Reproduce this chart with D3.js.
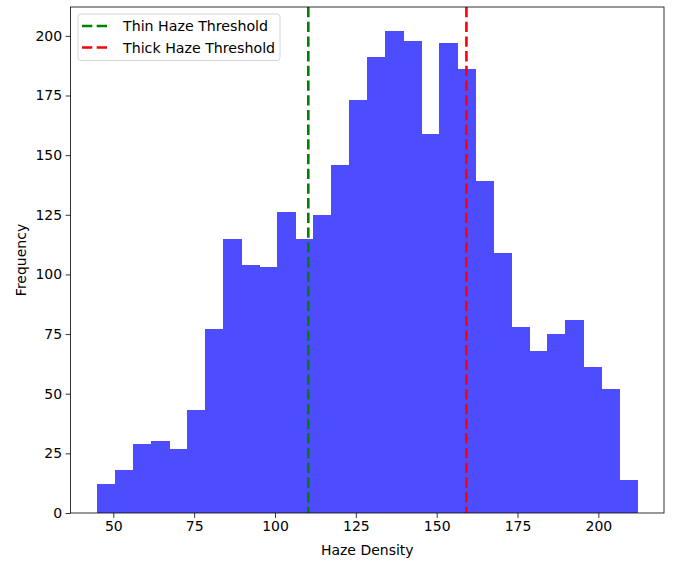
<!DOCTYPE html>
<html><head><meta charset="utf-8">
<script src="https://cdn.jsdelivr.net/npm/d3@7"></script>
<style>body{margin:0;background:#fff}svg{display:block}text{font-family:"DejaVu Sans",sans-serif}</style>
</head><body><svg id="c" width="677" height="563"></svg>
<script>
const binStart = 45.1, binEnd = 211.96;
const counts = [12,18,29,30,27,43,77,115,104,103,126,115,125,146,173,191,202,198,159,197,186,139,109,78,68,75,81,61,52,14];
const xTicks = [50,75,100,125,150,175,200];
const yTicks = [0,25,50,75,100,125,150,175,200];
const thresholds = [{name:"Thin Haze Threshold", value:110.3, color:"green"},{name:"Thick Haze Threshold", value:159.2, color:"red"}];

const svg = d3.select("#c");
const L=70.5, R=664, T=7, B=513;
const FS = "14px";
const span = binEnd-binStart;
const x = d3.scaleLinear().domain([binStart-span*0.05, binEnd+span*0.05]).range([L,R]);
const y = d3.scaleLinear().domain([0, d3.max(counts)*1.05]).range([B,T]);
const w = span/counts.length;

svg.append("g").attr("shape-rendering","crispEdges").selectAll("rect").data(counts).join("rect")
  .attr("x", (d,i)=>x(binStart+i*w))
  .attr("width", (d,i)=>x(binStart+(i+1)*w)-x(binStart+i*w)+0.5)
  .attr("y", d=>y(d)).attr("height", d=>B-y(d))
  .attr("fill","rgb(77,77,255)");

svg.append("g").selectAll("line").data(thresholds).join("line")
  .attr("x1",d=>x(d.value)).attr("x2",d=>x(d.value)).attr("y1",T).attr("y2",B)
  .attr("stroke",d=>d.color).attr("stroke-width",2.6).attr("stroke-dasharray","10.3,4.4");

const xa = svg.append("g").attr("transform",`translate(0,${B})`)
  .call(d3.axisBottom(x).tickValues(xTicks).tickSize(4.9).tickPadding(3.5));
const ya = svg.append("g").attr("transform",`translate(${L},0)`)
  .call(d3.axisLeft(y).tickValues(yTicks).tickSize(4.9).tickPadding(3.5));
[xa,ya].forEach(a=>{a.select(".domain").remove();a.selectAll("text").attr("font-size",FS).attr("fill","#000").style("font-family","DejaVu Sans");a.selectAll("line").attr("stroke","#000").attr("stroke-width",0.8);});

svg.append("rect").attr("x",L).attr("y",T).attr("width",R-L).attr("height",B-T)
  .attr("fill","none").attr("stroke","#000").attr("stroke-width",0.8);

svg.append("text").attr("x",(L+R)/2).attr("y",555).attr("text-anchor","middle").attr("font-size",FS).text("Haze Density");
svg.append("text").attr("transform",`translate(26,${(T+B)/2}) rotate(-90)`).attr("text-anchor","middle").attr("font-size",FS).text("Frequency");

const lg = svg.append("g");
lg.append("rect").attr("x",78).attr("y",14).attr("width",202).attr("height",46.5).attr("rx",3)
  .attr("fill","#fff").attr("fill-opacity",0.8).attr("stroke","#ccc").attr("stroke-width",0.8);
thresholds.forEach((t,i)=>{
  const yy = 26 + i*21.5;
  lg.append("line").attr("x1",82).attr("x2",110).attr("y1",yy).attr("y2",yy)
    .attr("stroke",t.color).attr("stroke-width",2.6).attr("stroke-dasharray","10.3,4.4");
  lg.append("text").attr("x",123).attr("y",yy+5).attr("font-size","14.2px").text(t.name);
});
</script></body></html>
